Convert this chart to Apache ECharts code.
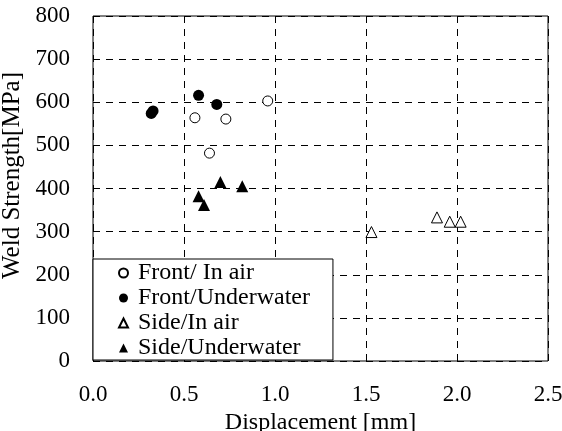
<!DOCTYPE html>
<html><head><meta charset="utf-8">
<script src="https://cdn.jsdelivr.net/npm/echarts@6/dist/echarts.min.js"></script>
<style>html,body{margin:0;padding:0;background:#fff}#c{width:562px;height:431px}</style>
</head><body><div id="c"></div>
<script>
const frontAirX = [0.56, 0.64, 0.73, 0.96];
const frontAirY = [564, 482, 561, 603];
const frontWaterX = [0.32, 0.33, 0.58, 0.68];
const frontWaterY = [574, 580, 616, 595];
const sideAirX = [1.53, 1.89, 1.96, 2.02];
const sideAirY = [299, 333, 323, 323];
const sideWaterX = [0.58, 0.61, 0.70, 0.82];
const sideWaterY = [382, 362, 415, 405];
const seriesNames = ['Front/ In air', 'Front/Underwater', 'Side/In air', 'Side/Underwater'];
const xTicks = [0, 0.5, 1.0, 1.5, 2.0, 2.5];
const yTicks = [0, 100, 200, 300, 400, 500, 600, 700, 800];

const font = 'Liberation Serif';
const fs = 23;
const pair = (xs, ys) => xs.map((x, i) => [x, ys[i]]);
const chart = echarts.init(document.getElementById('c'));
chart.setOption({
  animation: false,
  backgroundColor: '#fff',
  grid: {left: 93, right: 14, top: 16, bottom: 70, show: true, borderColor: '#000', borderWidth: 1,
         containLabel: false, outerBoundsMode: 'none'},
  xAxis: {
    type: 'value', min: xTicks[0], max: xTicks[xTicks.length-1], interval: 0.5,
    name: 'Displacement [mm]', nameLocation: 'middle', nameGap: 42,
    nameTextStyle: {fontFamily: font, fontSize: 24, color: '#000'},
    axisLine: {show: false}, axisTick: {show: false},
    axisLabel: {fontFamily: font, fontSize: fs, color: '#000', margin: 22, formatter: v => v.toFixed(1)},
    splitLine: {show: true, lineStyle: {color: '#000', type: [7, 6], width: 1}}
  },
  yAxis: {
    type: 'value', min: yTicks[0], max: yTicks[yTicks.length-1], interval: 100,
    name: 'Weld Strength[MPa]', nameLocation: 'middle', nameGap: 59,
    nameTextStyle: {fontFamily: font, fontSize: 25, color: '#000', padding: [0, 0, 0, 26]},
    axisLine: {show: false}, axisTick: {show: false},
    axisLabel: {fontFamily: font, fontSize: fs, color: '#000', margin: 23},
    splitLine: {show: true, lineStyle: {color: '#000', type: [7, 6], width: 1}}
  },
  legend: {
    orient: 'vertical', left: 93, top: 259,
    backgroundColor: '#fff', borderColor: '#000', borderWidth: 1,
    padding: [2, 23, 0, 25], itemGap: 1, itemWidth: 9, itemHeight: 9,
    textStyle: {fontFamily: font, fontSize: 24, color: '#000', padding: [0, 0, 0, 5]},
    data: seriesNames
  },
  series: [
    {name: seriesNames[0], type: 'scatter', data: pair(frontAirX, frontAirY), symbol: 'circle', symbolSize: 10,
     itemStyle: {color: '#fff', borderColor: '#000', borderWidth: 1, opacity: 1}},
    {name: seriesNames[1], type: 'scatter', data: pair(frontWaterX, frontWaterY), symbol: 'circle', symbolSize: 11,
     itemStyle: {color: '#000', borderColor: '#000', borderWidth: 0, opacity: 1}},
    {name: seriesNames[2], type: 'scatter', data: pair(sideAirX, sideAirY), symbol: 'triangle', symbolSize: 11,
     itemStyle: {color: '#fff', borderColor: '#000', borderWidth: 1, opacity: 1}},
    {name: seriesNames[3], type: 'scatter', data: pair(sideWaterX, sideWaterY), symbol: 'triangle', symbolSize: 12,
     itemStyle: {color: '#000', borderColor: '#000', borderWidth: 0, opacity: 1}}
  ]
});
</script></body></html>
